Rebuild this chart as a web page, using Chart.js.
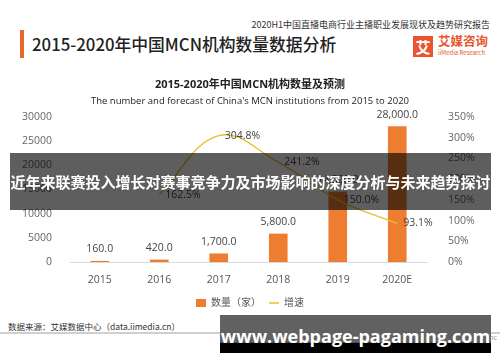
<!DOCTYPE html>
<html>
<head>
<meta charset="utf-8">
<script src="https://cdn.jsdelivr.net/npm/chart.js@4/dist/chart.umd.min.js"></script>
<style>
    html, body { margin: 0; padding: 0; background: #fff; }
    body { width: 500px; height: 362px; position: relative; overflow: hidden; font-family: 'Noto Sans CJK SC', 'Noto Sans', sans-serif; }
    .abs { position: absolute; white-space: nowrap; }
    #accent { left: 20px; top: 30px; width: 4px; height: 28px; background: #e8672c; }
    #pageTitle { left: 32px; top: 33px; font-size: 16.8px; font-weight: 500; color: #222; line-height: 22px; }
    #report { right: 10px; top: 19px; font-size: 9px; color: #333; line-height: 12px; }
    #logoBox { left: 413px; top: 36px; width: 20px; height: 21px; background: #e8552f; color: #fff; font-size: 15px; font-weight: bold; line-height: 21px; text-align: center; }
    #logoText { left: 438px; top: 33px; font-size: 12.5px; color: #e8552f; font-weight: bold; line-height: 16px; }
    #logoSub { left: 438px; top: 49px; font-size: 6px; color: #e8552f; line-height: 7px; }
    #chartBox { left: 0; top: 70px; width: 500px; height: 248px; }
    #source { left: 8px; top: 320px; font-size: 8.5px; color: #333; line-height: 12px; }
    #rule { left: 0; top: 332px; width: 500px; height: 2px; background: #cfcfcf; }
    #inc { right: 3px; top: 333px; font-size: 7px; color: #999; line-height: 9px; }
    #band { left: 10px; top: 153px; width: 481px; height: 57px; background: rgba(0, 0, 0, 0.63); color: #fff; font-size: 15px; font-weight: bold; line-height: 57px; text-align: center; overflow: hidden; }
    #siteBand { left: 220px; top: 315px; width: 271px; height: 38px; background: linear-gradient(#616161 0, #616161 72%, #000 74%, #000 100%); color: #fff; font-family: 'Open Sans', sans-serif; font-size: 18px; font-weight: bold; line-height: 42px; text-align: center; }
</style>
</head>
<body>
<div class="abs" id="accent"></div>
<div class="abs" id="pageTitle">2015-2020年中国MCN机构数量数据分析</div>
<div class="abs" id="report">2020H1中国直播电商行业主播职业发展现状及趋势研究报告</div>
<div class="abs" id="logoBox">艾</div>
<div class="abs" id="logoText">艾媒咨询</div>
<div class="abs" id="logoSub">iiMedia Research</div>
<div class="abs" id="chartBox"><canvas id="mcnChart"></canvas></div>
<div class="abs" id="source">数据来源：艾媒数据中心（data.iimedia.cn）</div>
<div class="abs" id="rule"></div>
<div class="abs" id="inc">Copyright © iiMedia Research Inc</div>
<div class="abs" id="band">近年来联赛投入增长对赛事竞争力及市场影响的深度分析与未来趋势探讨</div>
<div class="abs" id="siteBand">www.webpage-pagaming.com</div>

<script>
const years = ['2015', '2016', '2017', '2018', '2019', '2020E'];
const counts = [160, 420, 1700, 5800, 14500, 28000];
const growth = [null, 162.5, 304.8, 241.2, 150.0, 93.1];
const countTicks = [0, 5000, 10000, 15000, 20000, 25000, 30000];
const growthTicks = [0, 50, 100, 150, 200, 250, 300, 350];

const barColor = '#ed7d31';
const lineColor = '#e6c02c';
const fontFamily = "'Open Sans', 'Noto Sans CJK SC', sans-serif";

// value labels: numbers above bars, percentages right of line points
const valueLabels = {
    id: 'valueLabels',
    afterDatasetsDraw(chart) {
        const ctx = chart.ctx;
        ctx.save();
        ctx.font = '10.5px ' + fontFamily;
        ctx.fillStyle = '#444';
        ctx.textBaseline = 'middle';

        ctx.textAlign = 'center';
        chart.getDatasetMeta(0).data.forEach((bar, i) => {
            const txt = counts[i].toLocaleString('en-US', { minimumFractionDigits: 1 });
            ctx.fillText(txt, bar.x, bar.y - 12);
        });

        ctx.textAlign = 'left';
        chart.getDatasetMeta(1).data.forEach((pt, i) => {
            if (growth[i] === null) return;
            ctx.fillText(growth[i].toFixed(1) + '%', pt.x + 6, pt.y);
        });
        ctx.restore();
    }
};

Chart.defaults.font.family = fontFamily;

new Chart(document.getElementById('mcnChart'), {
    type: 'bar',
    data: {
        labels: years,
        datasets: [{
            label: '数量（家）',
            data: counts,
            backgroundColor: barColor,
            barThickness: 18,
            yAxisID: 'y',
            order: 2
        }, {
            type: 'line',
            label: '增速',
            data: growth,
            borderColor: lineColor,
            backgroundColor: lineColor,
            borderWidth: 1.3,
            tension: 0.4,
            pointRadius: 0,
            yAxisID: 'y1',
            order: 1
        }]
    },
    options: {
        responsive: true,
        maintainAspectRatio: false,
        animation: false,
        layout: { padding: 0 },
        plugins: {
            title: {
                display: true,
                text: '2015-2020年中国MCN机构数量及预测',
                color: '#222',
                font: { size: 11, weight: 'bold' },
                padding: { top: 8, bottom: 4 }
            },
            subtitle: {
                display: true,
                text: "The number and forecast of China's MCN institutions from 2015 to 2020",
                color: '#222',
                font: { size: 9.5 },
                padding: { top: 0, bottom: 10.4 }
            },
            legend: {
                position: 'bottom',
                labels: {
                    color: '#555',
                    font: { size: 10 },
                    padding: 8,
                    usePointStyle: true,
                    boxHeight: 8,
                    pointStyleWidth: 10,
                    sort: (a, b) => a.datasetIndex - b.datasetIndex,
                    generateLabels(chart) {
                        const items = Chart.defaults.plugins.legend.labels.generateLabels(chart);
                        items.forEach(item => {
                            if (item.datasetIndex === 0) {
                                item.pointStyle = 'rect';
                                item.lineWidth = 0;
                            } else {
                                item.pointStyle = 'line';
                                item.lineWidth = 1.5;
                            }
                        });
                        return items;
                    }
                }
            },
            tooltip: { enabled: false }
        },
        scales: {
            x: {
                grid: { drawOnChartArea: false, drawTicks: false },
                border: { display: true, color: '#d9d9d9' },
                ticks: { color: '#555', font: { size: 10.5 }, padding: 11.5 },
                afterFit: scale => { scale.height = 28; }
            },
            y: {
                position: 'left',
                min: countTicks[0],
                max: countTicks[countTicks.length - 1],
                grid: { display: false },
                border: { display: false },
                ticks: { color: '#666', font: { size: 10.5 }, padding: 10, callback: v => String(v) },
                afterBuildTicks: scale => { scale.ticks = countTicks.map(v => ({ value: v })); },
                afterFit: scale => { scale.width = 70; }
            },
            y1: {
                position: 'right',
                min: growthTicks[0],
                max: growthTicks[growthTicks.length - 1],
                grid: { display: false },
                border: { display: false },
                ticks: { color: '#666', font: { size: 10.5 }, padding: 13, callback: v => v + '%' },
                afterBuildTicks: scale => { scale.ticks = growthTicks.map(v => ({ value: v })); },
                afterFit: scale => { scale.width = 73; }
            }
        }
    },
    plugins: [valueLabels]
});
</script>
</body>
</html>
